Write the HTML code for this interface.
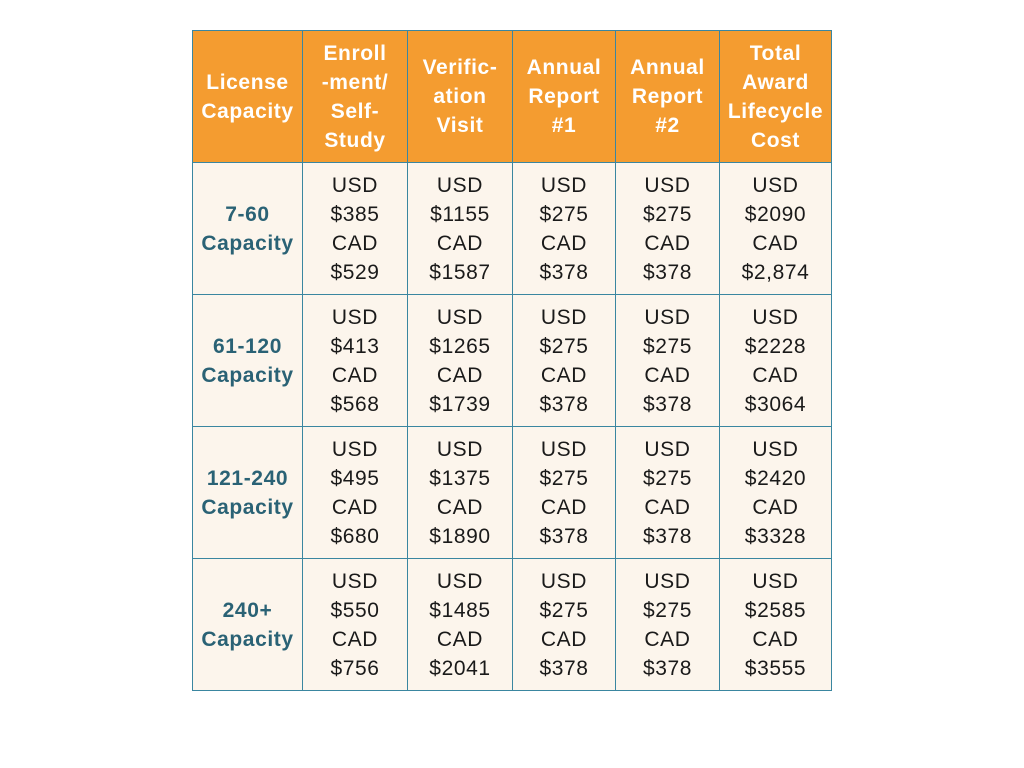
<!DOCTYPE html>
<html><head><meta charset="utf-8"><style>
html,body{margin:0;padding:0;background:#fff;width:1024px;height:768px;overflow:hidden;}
table{position:absolute;left:192px;top:30px;border-collapse:collapse;font-family:"Liberation Sans",sans-serif;table-layout:fixed;}
td,th{border:1px solid #3a86a0;padding:0;text-align:center;vertical-align:middle;font-size:21px;line-height:29px;letter-spacing:0.6px;}
th{background:#f49c30;color:#fff;font-weight:bold;height:131px;}
td{background:#fcf5ec;color:#1a1a1a;height:131px;}
td.l{color:#2a6275;font-weight:bold;}
</style></head><body>
<table>
<colgroup><col style="width:110px"><col style="width:105px"><col style="width:105px"><col style="width:103px"><col style="width:104px"><col style="width:112px"></colgroup>
<tr><th>License<br>Capacity</th><th>Enroll<br>-ment/<br>Self-<br>Study</th><th>Verific-<br>ation<br>Visit</th><th>Annual<br>Report<br>#1</th><th>Annual<br>Report<br>#2</th><th>Total<br>Award<br>Lifecycle<br>Cost</th></tr>
<tr><td class="l">7-60<br>Capacity</td><td>USD<br>$385<br>CAD<br>$529</td><td>USD<br>$1155<br>CAD<br>$1587</td><td>USD<br>$275<br>CAD<br>$378</td><td>USD<br>$275<br>CAD<br>$378</td><td>USD<br>$2090<br>CAD<br>$2,874</td></tr>
<tr><td class="l">61-120<br>Capacity</td><td>USD<br>$413<br>CAD<br>$568</td><td>USD<br>$1265<br>CAD<br>$1739</td><td>USD<br>$275<br>CAD<br>$378</td><td>USD<br>$275<br>CAD<br>$378</td><td>USD<br>$2228<br>CAD<br>$3064</td></tr>
<tr><td class="l">121-240<br>Capacity</td><td>USD<br>$495<br>CAD<br>$680</td><td>USD<br>$1375<br>CAD<br>$1890</td><td>USD<br>$275<br>CAD<br>$378</td><td>USD<br>$275<br>CAD<br>$378</td><td>USD<br>$2420<br>CAD<br>$3328</td></tr>
<tr><td class="l">240+<br>Capacity</td><td>USD<br>$550<br>CAD<br>$756</td><td>USD<br>$1485<br>CAD<br>$2041</td><td>USD<br>$275<br>CAD<br>$378</td><td>USD<br>$275<br>CAD<br>$378</td><td>USD<br>$2585<br>CAD<br>$3555</td></tr>
</table>
</body></html>
